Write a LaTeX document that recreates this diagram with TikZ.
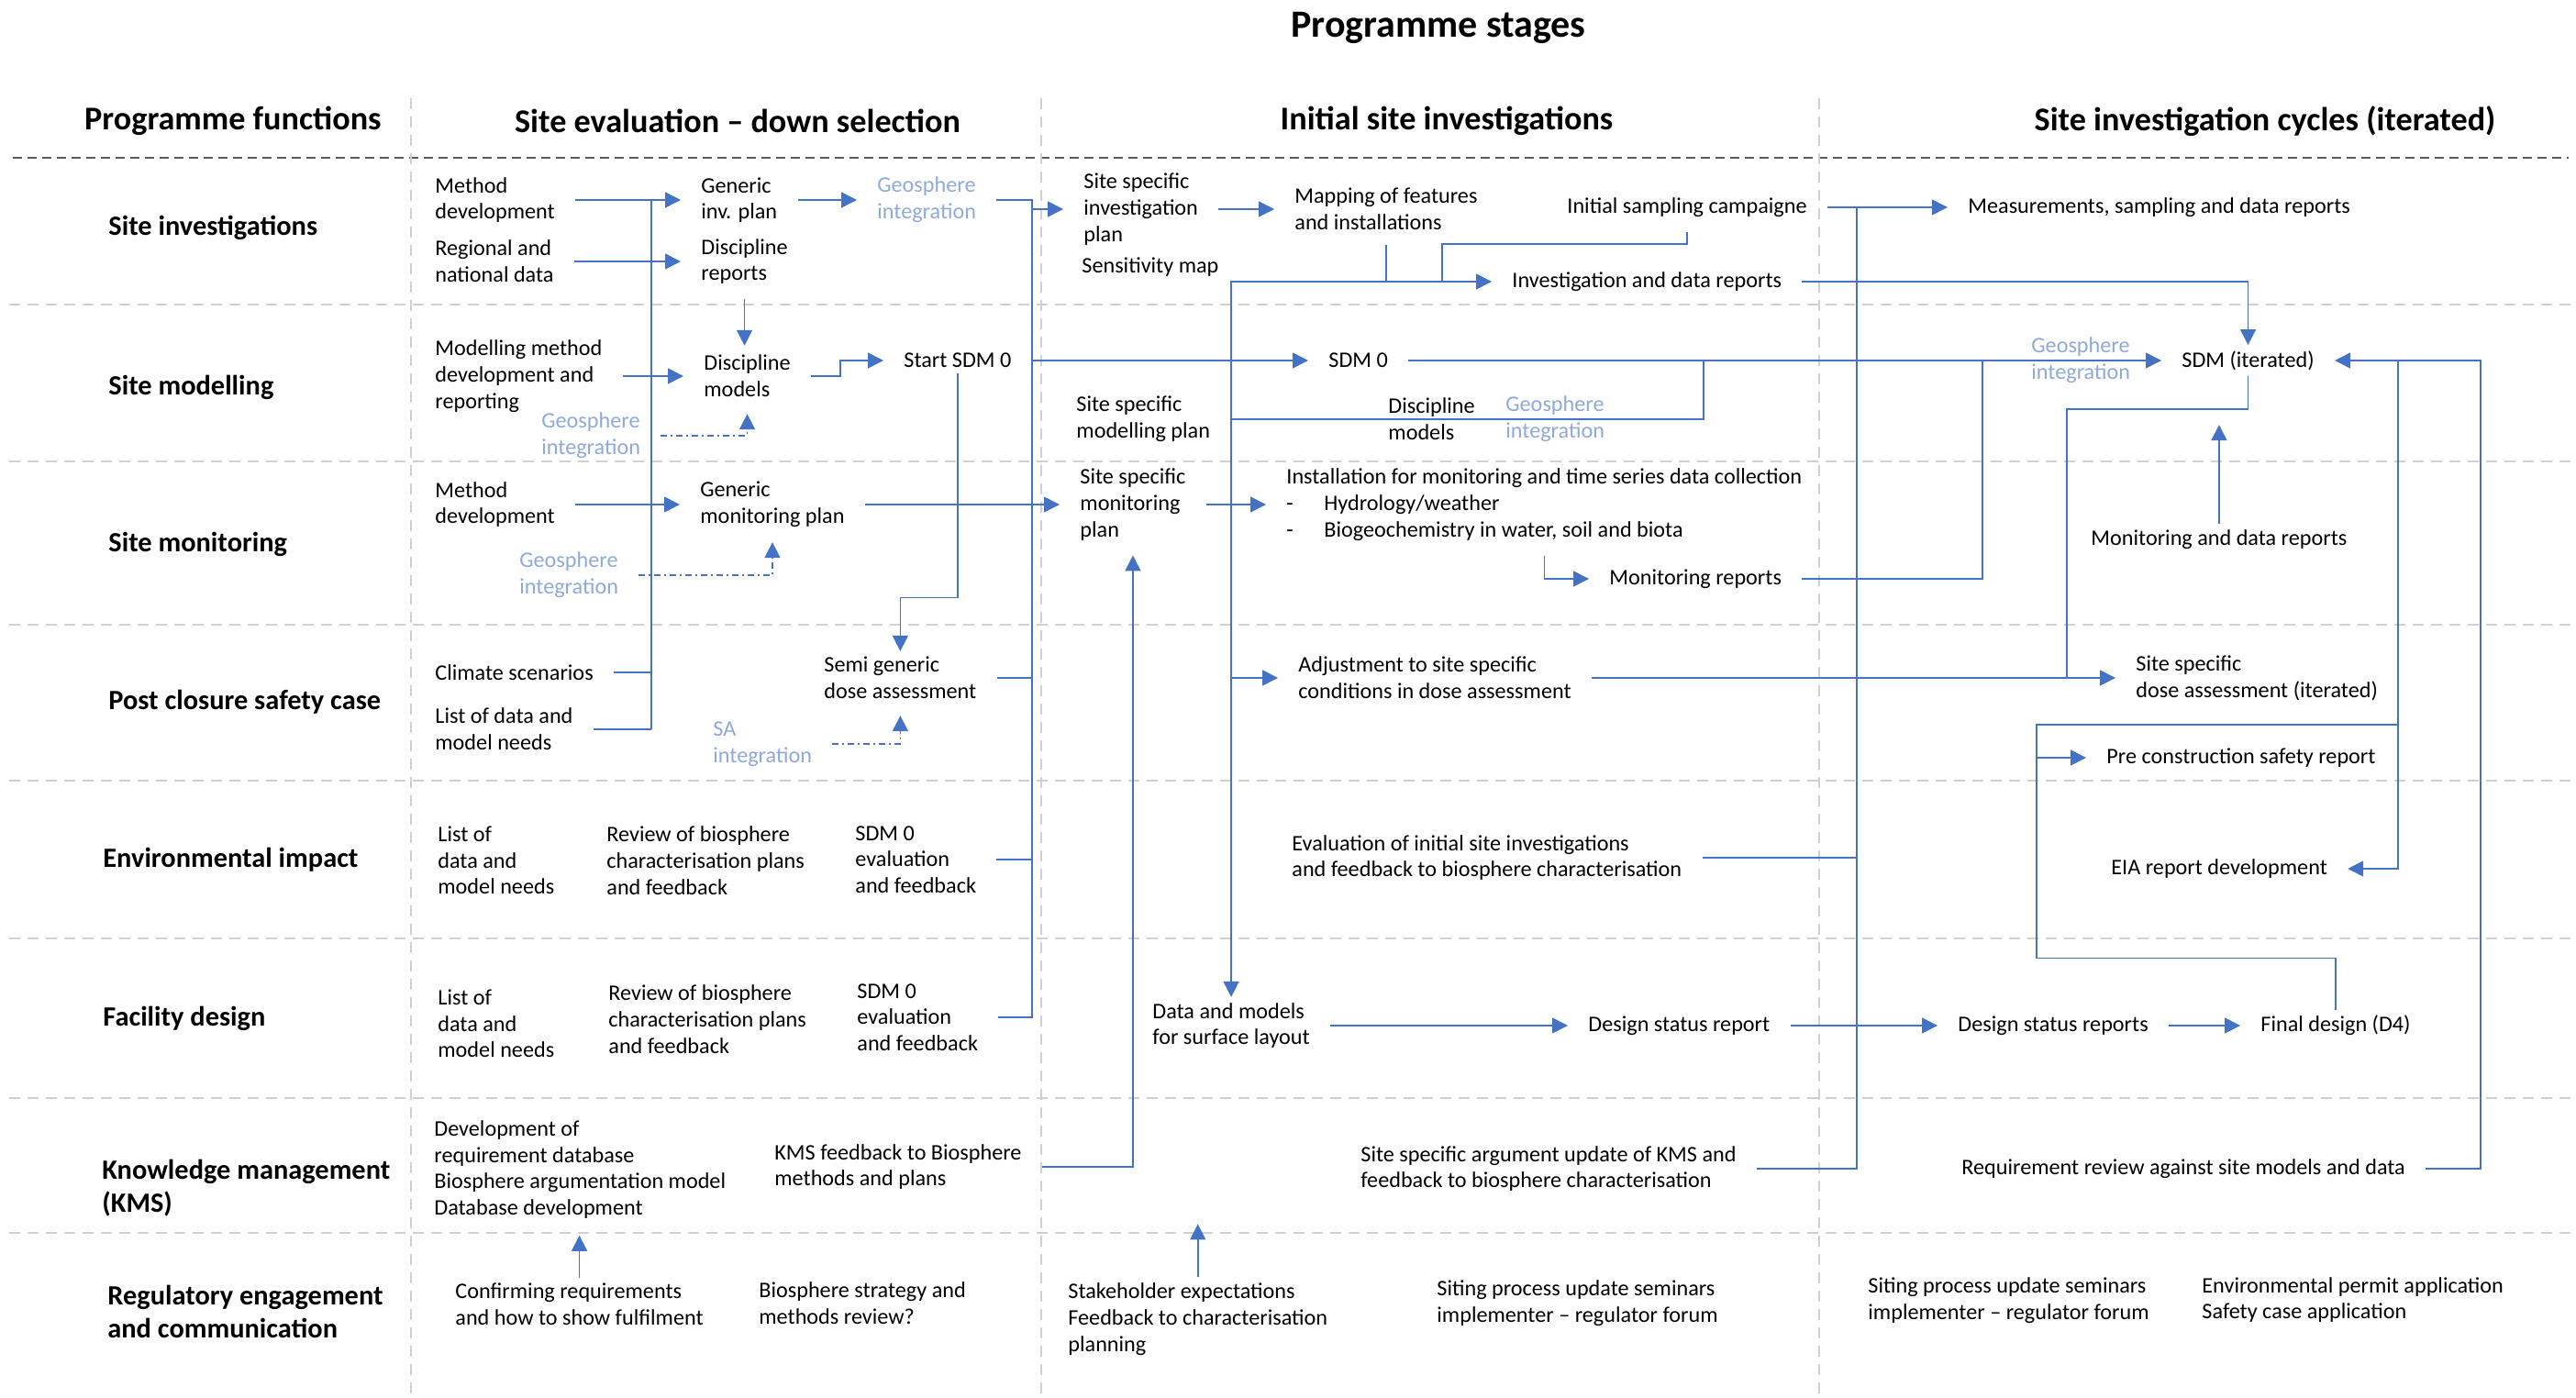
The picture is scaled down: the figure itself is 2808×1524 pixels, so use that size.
\documentclass[tikz,border=0pt]{standalone}
\usepackage{fontspec}
\setmainfont{Carlito}
\usetikzlibrary{arrows.meta}
\definecolor{lnblue}{HTML}{4472C4}
\definecolor{ltblue}{HTML}{8EAADB}
\definecolor{hdgray}{HTML}{595959}
\definecolor{sepgray}{HTML}{D0D0D0}
\newcommand\dgbody{\fontsize{12.1}{14.35}\selectfont}
\newcommand\dgrow{\fontsize{15.2}{18.2}\selectfont\bfseries}
\newcommand\dghead{\fontsize{18.1}{21}\selectfont\bfseries}
\newcommand\dgtitle{\fontsize{21}{25}\selectfont\bfseries}
\begin{document}
\begin{tikzpicture}[x=0.5pt, y=-0.5pt,
  txt/.style={font=\dgbody, anchor=west, align=left, inner xsep=11pt, inner ysep=3pt, xshift=-11pt, text=black},
  soft/.style={txt, text=ltblue},
  rowlab/.style={font=\dgrow, anchor=west, align=left, inner sep=0pt},
  colhead/.style={font=\dghead, inner sep=0pt},
  conn/.style={draw=lnblue, line width=0.8pt},
  arr/.style={conn, -{Triangle[length=8.5pt,width=8.5pt]}},
  dd/.style={arr, dash pattern=on 3.5pt off 2pt on 1pt off 2pt},
  hdline/.style={draw=hdgray, line width=1pt, dash pattern=on 5pt off 3pt},
  sepline/.style={draw=sepgray, line width=0.75pt, dash pattern=on 6pt off 4pt},
]
\path[use as bounding box] (0,0) rectangle (2808,1524);

% ---------- grid ----------
\draw[hdline] (14,172) -- (2800,172);
\foreach \yy in {332,503,681,851,1023,1197,1344}
  \draw[sepline] (10,\yy) -- (2803,\yy);
\foreach \xx in {448,1135,1983}
  \draw[sepline] (\xx,107) -- (\xx,1524);

% ---------- headings ----------
\node[font=\dgtitle, inner sep=0pt] (title) at (1568,30) {Programme stages};
\node[colhead] (h0) at (254,132) {Programme functions};
\node[colhead] (h1) at (804,132) {Site evaluation \textendash{} down selection};
\node[colhead] (h2) at (1577,132) {Initial site investigations};
\node[colhead] (h3) at (2469,132) {Site investigation cycles (iterated)};

\node[rowlab] (r1) at (118,248) {Site investigations};
\node[rowlab] (r2) at (118,422) {Site modelling};
\node[rowlab] (r3) at (118,593) {Site monitoring};
\node[rowlab] (r4) at (118,765) {Post closure safety case};
\node[rowlab] (r5) at (112,937) {Environmental impact};
\node[rowlab] (r6) at (112,1110) {Facility design};
\node[rowlab] (r7) at (111,1295) {Knowledge management\\(KMS)};
\node[rowlab] (r8) at (117,1430) {Regulatory engagement\\and communication};

% ---------- site evaluation column ----------
\node[txt] (md1) at (474,218) {Method\\development};
\node[txt] (rnd) at (474,285) {Regional and\\national data};
\node[txt] (gip) at (764,218) {Generic\\inv. plan};
\node[txt] (dr) at (764,285) {Discipline\\reports};
\node[soft] (gi1) at (956,218) {Geosphere\\integration};
\node[txt] (mmd) at (474,410) {Modelling method\\development and\\reporting};
\node[txt] (dm) at (767,410) {Discipline\\models};
\node[txt] (ssdm) at (985,393) {Start SDM 0};
\node[soft] (gi2) at (590,475) {Geosphere\\integration};
\node[txt] (md2) at (474,550) {Method\\development};
\node[txt] (gmp) at (763,550) {Generic\\monitoring plan};
\node[soft] (gi3) at (566,627) {Geosphere\\integration};
\node[txt] (cs) at (474,733) {Climate scenarios};
\node[txt] (ldm) at (474,795) {List of data and\\model needs};
\node[txt] (sgda) at (898,739) {Semi generic\\dose assessment};
\node[soft] (sai) at (777,811) {SA\\integration};
\node[txt] (ei1) at (477,938) {List of\\data and\\model needs};
\node[txt] (ei2) at (661,938) {Review of biosphere\\characterisation plans\\and feedback};
\node[txt] (ei3) at (932,937) {SDM 0\\evaluation\\and feedback};
\node[txt] (fd1) at (477,1116) {List of\\data and\\model needs};
\node[txt] (fd2) at (663,1111) {Review of biosphere\\characterisation plans\\and feedback};
\node[txt] (fd3) at (934,1109) {SDM 0\\evaluation\\and feedback};
\node[txt] (km1) at (473,1275) {Development of\\requirement database\\Biosphere argumentation model\\Database development};
\node[txt] (km2) at (844,1272) {KMS feedback to Biosphere\\methods and plans};
\node[txt] (re1) at (496,1422) {Confirming requirements\\and how to show fulfilment};
\node[txt] (re2) at (827,1421) {Biosphere strategy and\\methods review?};

% ---------- initial site investigations column ----------
\node[txt] (ssip) at (1181,228) {Site specific\\investigation\\plan};
\node[txt] (sens) at (1179,291) {Sensitivity map};
\node[txt] (mfi) at (1411,228) {Mapping of features\\and installations};
\node[txt] (isc) at (1708,226) {Initial sampling campaigne};
\node[txt] (idr) at (1648,307) {Investigation and data reports};
\node[txt] (sdm0) at (1448,393) {SDM 0};
\node[txt] (ssmp) at (1173,457) {Site specific\\modelling plan};
\node[txt] (dm2) at (1513,457) {Discipline\\models};
\node[soft] (gi4) at (1641,457) {Geosphere\\integration};
\node[txt] (ssmon) at (1177,550) {Site specific\\monitoring\\plan};
\node[txt] (inst) at (1402,550) {Installation for monitoring and time series data collection\\\makebox[20.5pt][l]{-}Hydrology/weather\\\makebox[20.5pt][l]{-}Biogeochemistry in water, soil and biota};
\node[txt] (mr) at (1754,631) {Monitoring reports};
\node[txt] (adj) at (1415,739) {Adjustment to site specific\\conditions in dose assessment};
\node[txt] (eval) at (1408,935) {Evaluation of initial site investigations\\and feedback to biosphere characterisation};
\node[txt] (dmsl) at (1256,1118) {Data and models\\for surface layout};
\node[txt] (dsr) at (1731,1118) {Design status report};
\node[txt] (ssau) at (1483,1274) {Site specific argument update of KMS and\\feedback to biosphere characterisation};
\node[txt] (stk) at (1164,1438) {Stakeholder expectations\\Feedback to characterisation\\planning};
\node[txt] (sps1) at (1566,1421) {Siting process update seminars\\implementer \textendash{} regulator forum};

% ---------- site investigation cycles column ----------
\node[txt] (msdr) at (2145,226) {Measurements, sampling and data reports};
\node[soft] (gi5) at (2214,393) {Geosphere\\integration};
\node[txt] (sdmi) at (2378,393) {SDM (iterated)};
\node[txt] (mdr) at (2279,588) {Monitoring and data reports};
\node[txt] (ssda) at (2328,739) {Site specific\\dose assessment (iterated)};
\node[txt] (pcsr) at (2296,826) {Pre construction safety report};
\node[txt] (eia) at (2301,947) {EIA report development};
\node[txt] (dsrs) at (2134,1118) {Design status reports};
\node[txt] (fd4) at (2464,1118) {Final design (D4)};
\node[txt] (rr) at (2138,1274) {Requirement review against site models and data};
\node[txt] (sps2) at (2036,1418) {Siting process update seminars\\implementer \textendash{} regulator forum};
\node[txt] (epa) at (2400,1417) {Environmental permit application\\Safety case application};

% ---------- connectors: site evaluation ----------
\coordinate (s1t) at (710,218);
\coordinate (s1b) at (710,795);
\draw[conn] (s1t) -- (s1b);
\draw[arr] (md1.east) -- (gip.west);
\draw[arr] (rnd.east) -- (dr.west);
\draw[arr] (mmd.east) -- (dm.west);
\draw[arr] (md2.east) -- (gmp.west);
\draw[conn] (cs.east) -- (cs.east -| s1t);
\draw[conn] (ldm.east) -- (s1b);
\draw[arr] (gip.east) -- (gi1.west);
\draw[arr, shorten <=5pt, shorten >=2pt] (dr.south) -- (dr.south |- dm.north);
\draw[arr] (dm.east) -- ++(32,0) |- (ssdm.west);
\draw[dd, shorten >=6pt] (gi2.east) -| (dm.south);
\draw[arr] (ssdm.south) -- ++(0,244) -| (sgda.north);
\draw[arr] (gmp.east) -- (ssmon.west);
\draw[dd, shorten >=5pt] (gi3.east) -| (gmp.south);
\draw[dd, shorten >=6pt] (sai.east) -| (sgda.south);

\coordinate (s2t) at (1125,218);
\coordinate (s2b) at (1125,1109);
\draw[conn] (gi1.east) -- (s2t) -- (s2b) -- (fd3.east);
\draw[conn] (sgda.east) -- (sgda.east -| s2t);
\draw[conn] (ei3.east) -- (ei3.east -| s2t);
\draw[arr] (ssip.west -| s2t) -- (ssip.west);
\draw[arr] (sdm0.west -| s2t) -- (sdm0.west);
\draw[arr, shorten >=5pt] (km2.east) -| (ssmon.south);
\draw[arr] (re1.north) -- ++(0,-46);

% ---------- connectors: initial site investigations ----------
\coordinate (j1) at (1512,307);
\coordinate (j2) at (1572,307);
\draw[arr] (ssip.east) -- (mfi.west);
\draw[conn, shorten <=5pt] (mfi.south) -- (mfi.south |- j1);
\draw[arr] (mfi.south |- j1) -- (idr.west);
\draw[arr] (mfi.south |- j1) -- (j1 -| dmsl.north) -- (dmsl.north);
\draw[arr] (adj.west -| dmsl.north) -- (adj.west);
\draw[conn, shorten <=5pt] (isc.south) -- ++(0,23) -| (j2);
\draw[arr] (isc.east) -- (msdr.west);
\coordinate (s4t) at (2024,226);
\draw[conn] (ssau.east) -| (s4t);
\draw[conn] (eval.east) -- (eval.east -| s4t);
\draw[arr] (idr.east) -| (sdmi.north);
\draw[arr] (sdm0.east) -- (sdmi.west);
\coordinate (j3) at (1857,393);
\draw[conn] (ssmp.east) -| (j3);
\draw[arr] (ssmon.east) -- (inst.west);
\draw[arr] ([yshift=-5pt]inst.south) |- (mr.west);
\coordinate (j5) at (2161,393);
\draw[conn] (mr.east) -| (j5);
\draw[arr] (adj.east) -- (ssda.west);
\draw[arr] (dmsl.east) -- (dsr.west);
\draw[arr] (dsr.east) -- (dsrs.west);
\draw[arr] (stk.north) -- ++(0,-58);

% ---------- connectors: site investigation cycles ----------
\coordinate (j6) at (2253,739);
\coordinate (j7) at (2253,446);
\draw[conn] (sdmi.south) |- (j7) -- (j6);
\draw[arr] (mdr.north) -- ++(0,-108);
\coordinate (j8) at (2704,393);
\draw[arr] (rr.east) -| (j8) -- (sdmi.east);
\coordinate (j9) at (2614,393);
\draw[arr] (j9) |- (eia.east);
\coordinate (j11) at (2220,790);
\coordinate (j12) at (2614,790);
\draw[conn] (fd4.north) -- ++(0,-56) -| (j11) -- (j12);
\draw[arr] (pcsr.west -| j11) -- (pcsr.west);
\draw[arr] (dsrs.east) -- (fd4.west);
\end{tikzpicture}
\end{document}
